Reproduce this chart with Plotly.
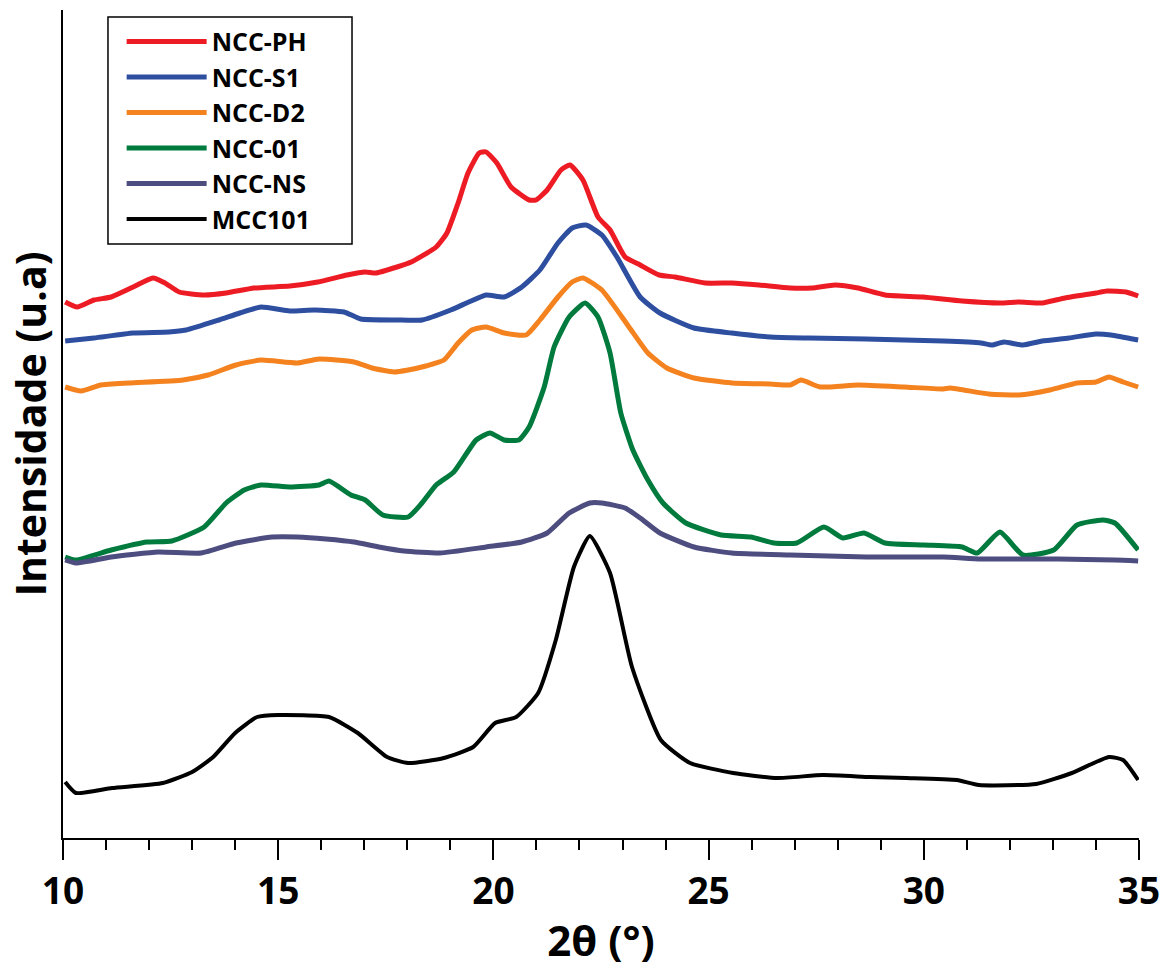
import plotly.graph_objects as go

# 2theta (degrees) and intensity (arbitrary units)
ph_x = [10.05, 10.33, 10.72, 11.12, 11.63, 12.09, 12.37, 12.70, 13.28, 13.79, 14.44, 15.27, 15.92, 16.60, 17.02, 17.27, 17.76, 18.09, 18.67, 18.92, 19.18, 19.41, 19.67, 19.83, 20.08, 20.41, 20.83, 20.99, 21.25, 21.57, 21.78, 22.08, 22.43, 22.71, 23.06, 23.41, 23.85, 24.22, 24.92, 25.54, 26.17, 26.89, 27.40, 27.94, 28.47, 29.10, 29.98, 30.89, 31.77, 32.21, 32.75, 33.28, 34.00, 34.26, 34.70, 34.98]
ph_y = [536, 531, 538, 541, 551, 560, 555, 546, 543, 545, 550, 552, 556, 563, 566, 565, 571, 576, 591, 605, 635, 665, 685, 686, 675, 651, 638, 638, 648, 668, 673, 658, 621, 608, 581, 573, 563, 561, 555, 555, 553, 550, 550, 553, 550, 543, 541, 537, 535, 536, 535, 540, 545, 547, 546, 542]

s1_x = [10.05, 10.72, 11.63, 12.46, 12.86, 13.62, 14.11, 14.60, 15.27, 15.85, 16.53, 16.92, 17.76, 18.34, 19.01, 19.43, 19.83, 20.25, 20.66, 21.08, 21.50, 21.83, 22.15, 22.52, 22.87, 23.41, 23.87, 24.66, 25.54, 26.43, 27.33, 28.66, 30.45, 31.33, 31.58, 31.86, 32.30, 32.75, 33.37, 34.00, 34.35, 34.98]
s1_y = [497, 500, 505, 506, 508, 518, 525, 531, 527, 528, 526, 519, 518, 518, 528, 536, 543, 541, 551, 568, 595, 610, 613, 603, 581, 541, 525, 510, 505, 501, 500, 499, 497, 495, 493, 496, 493, 497, 500, 504, 503, 498]

d2_x = [10.05, 10.42, 10.88, 11.53, 12.79, 13.37, 14.02, 14.60, 15.44, 15.95, 16.76, 17.18, 17.69, 18.02, 18.43, 18.85, 19.18, 19.50, 19.83, 20.25, 20.76, 21.08, 21.50, 21.83, 22.08, 22.52, 23.15, 23.59, 24.03, 24.66, 25.54, 26.43, 26.89, 27.15, 27.59, 28.47, 29.54, 30.45, 30.61, 31.51, 32.21, 32.93, 33.56, 34.00, 34.30, 34.63, 34.98]
d2_y = [451, 447, 453, 455, 458, 463, 473, 478, 475, 479, 476, 470, 466, 468, 472, 478, 495, 508, 511, 505, 503, 518, 541, 556, 560, 548, 511, 485, 470, 460, 455, 454, 453, 458, 451, 453, 451, 449, 450, 444, 443, 448, 455, 456, 461, 456, 451]

n01_x = [10.05, 10.30, 11.12, 11.95, 12.53, 13.28, 13.79, 14.21, 14.60, 15.27, 15.95, 16.18, 16.69, 17.02, 17.43, 18.02, 18.34, 18.67, 19.08, 19.60, 19.92, 20.25, 20.59, 20.83, 21.18, 21.41, 21.76, 22.13, 22.43, 22.71, 22.96, 23.24, 23.59, 23.94, 24.47, 25.29, 25.98, 26.52, 27.05, 27.68, 28.12, 28.61, 29.10, 30.00, 30.89, 31.24, 31.77, 32.30, 33.02, 33.56, 34.16, 34.44, 34.98]
n01_y = [281, 278, 288, 296, 297, 311, 335, 348, 353, 351, 353, 357, 343, 338, 323, 321, 335, 353, 366, 398, 405, 398, 398, 411, 451, 491, 521, 535, 521, 485, 425, 388, 358, 335, 315, 303, 301, 295, 295, 311, 300, 305, 295, 293, 291, 285, 306, 283, 288, 313, 318, 315, 288]

ns_x = [10.05, 10.30, 11.12, 12.21, 13.21, 14.02, 14.86, 15.44, 16.11, 16.76, 17.34, 17.92, 18.76, 19.83, 20.66, 21.25, 21.76, 22.24, 22.52, 23.06, 23.41, 23.87, 24.66, 25.54, 26.89, 28.66, 30.45, 31.33, 33.12, 34.44, 34.98]
ns_y = [278, 275, 281, 286, 285, 295, 301, 301, 299, 296, 291, 287, 285, 291, 296, 305, 325, 335, 335, 330, 320, 305, 291, 285, 283, 281, 281, 279, 279, 278, 277]

mcc_x = [10.05, 10.30, 11.14, 12.32, 13.00, 13.49, 14.00, 14.51, 15.00, 16.18, 16.85, 17.53, 18.02, 18.85, 19.53, 20.04, 20.53, 21.04, 21.45, 21.87, 22.24, 22.71, 23.22, 23.89, 24.57, 25.57, 26.59, 27.66, 28.75, 29.59, 30.77, 31.28, 32.61, 33.44, 34.30, 34.63, 34.98]
mcc_y = [56, 45, 50, 55, 66, 81, 105, 121, 123, 121, 105, 81, 75, 80, 91, 115, 121, 145, 198, 271, 302, 265, 171, 98, 75, 65, 60, 63, 61, 60, 58, 53, 54, 65, 81, 78, 58]

names = ["NCC-PH", "NCC-S1", "NCC-D2", "NCC-01", "NCC-NS", "MCC101"]
colors = ["#ED1C24", "#2E4FA0", "#F4821F", "#007A3D", "#4D4D80", "#000000"]
widths = [5, 5, 5, 5, 5, 4]
xs = [ph_x, s1_x, d2_x, n01_x, ns_x, mcc_x]
ys = [ph_y, s1_y, d2_y, n01_y, ns_y, mcc_y]

x_ticks = [10, 15, 20, 25, 30, 35]

FONT = "Open Sans"

fig = go.Figure()
for n, c, w, x, y in zip(names, colors, widths, xs, ys):
    fig.add_trace(go.Scatter(x=x, y=y, mode="lines", name=n,
                             line=dict(color=c, width=w, shape="spline", smoothing=0.5)))

# legend frame (wider padding than plotly's own legend border)
fig.add_shape(type="rect", xref="paper", yref="paper",
              x0=0.0418, x1=0.2686, y0=0.7174, y1=0.9915,
              line=dict(color="black", width=1.5), fillcolor="rgba(0,0,0,0)", layer="above")

fig.update_layout(
    width=1172, height=968,
    margin=dict(l=63, r=33, t=10, b=130),
    paper_bgcolor="white", plot_bgcolor="white",
    font=dict(family=FONT, color="black"),
    showlegend=True,
    legend=dict(
        x=0.0545, y=0.9895, xanchor="left", yanchor="top",
        borderwidth=0, bgcolor="rgba(0,0,0,0)",
        font=dict(family=FONT, size=25, color="black", weight="bold"),
        itemwidth=80, tracegroupgap=0,
    ),
    xaxis=dict(
        range=[10, 35], tickvals=x_ticks, ticktext=[str(v) for v in x_ticks],
        ticks="outside", ticklen=20, tickwidth=2, tickcolor="black",
        minor=dict(dtick=1, ticks="outside", ticklen=10, tickwidth=2, tickcolor="black", showgrid=False),
        showline=True, linewidth=2, linecolor="black", showgrid=False, zeroline=False,
        tickfont=dict(family=FONT, size=37, color="black", weight="bold"),
        title=dict(text="2θ (°)", font=dict(family=FONT, size=42, color="black", weight="bold"), standoff=14),
    ),
    yaxis=dict(
        range=[0, 828], showticklabels=False, ticks="", showgrid=False, zeroline=False,
        showline=True, linewidth=2, linecolor="black",
        title=dict(text="Intensidade (u.a)", font=dict(family=FONT, size=41, color="black", weight="bold"), standoff=2),
    ),
)

fig.write_html("out.html")
